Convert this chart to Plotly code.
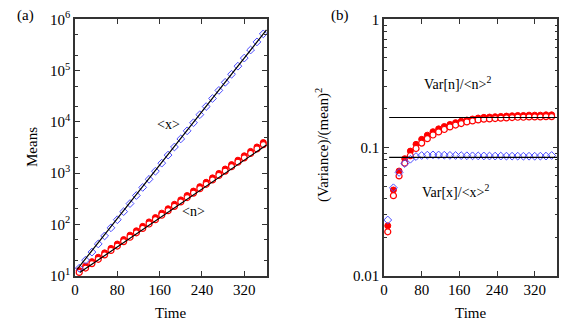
import plotly.graph_objects as go

# ---------------- data ----------------
time = [8, 20, 32, 44, 56, 68, 80, 92, 104, 116, 128, 140, 152, 164, 176,
        188, 200, 212, 224, 236, 248, 260, 272, 284, 296, 308, 320, 332, 344, 356]

mean_x = [14.0, 20.1, 28.9, 41.6, 59.7, 85.9, 123.5, 177.5, 255, 366, 527, 758,
          1089, 1566, 2250, 3236, 4652, 6683, 9610, 13800, 19860, 28560, 41040,
          59020, 84720, 121900, 175400, 251800, 362200, 520000]

mean_n_filled = [12.6, 15.4, 18.8, 22.9, 27.9, 34.1, 41.5, 50.6, 61.7, 75.2, 91.6,
                 112, 136, 166, 202, 247, 301, 366, 447, 545, 664, 809, 987, 1203,
                 1467, 1788, 2179, 2656, 3237, 3946]
mean_n_open = [11.6, 14.1, 17.2, 20.9, 25.5, 31.1, 37.9, 46.2, 56.2, 68.6, 83.6,
               102, 124, 151, 185, 225, 274, 334, 408, 497, 606, 739, 900, 1097,
               1338, 1631, 1988, 2423, 2953, 3600]

fit_x_t = [4, 362]
fit_x_v = [13.3, 620000]
fit_n_t = [9, 362]
fit_n_v = [11.5, 3540]

var_n_filled = [0.0245, 0.0466, 0.0655, 0.0818, 0.0937, 0.1058, 0.1158, 0.1248, 0.1328,
                0.1398, 0.1458, 0.1513, 0.1563, 0.1603, 0.1638, 0.1668, 0.1698, 0.1718,
                0.1728, 0.1738, 0.1748, 0.1758, 0.1768, 0.1778, 0.1778, 0.1788, 0.1788,
                0.1788, 0.1798, 0.1798]
var_n_open = [0.0220, 0.0421, 0.0600, 0.0755, 0.0863, 0.0982, 0.1082, 0.1172, 0.1252,
              0.1322, 0.1382, 0.1447, 0.1497, 0.1537, 0.1582, 0.1612, 0.1642, 0.1662,
              0.1672, 0.1682, 0.1692, 0.1702, 0.1712, 0.1722, 0.1722, 0.1732, 0.1732,
              0.1732, 0.1742, 0.1742]
var_x = [0.0272, 0.0485, 0.0639, 0.0750, 0.0810, 0.0850, 0.0866, 0.0872, 0.0876, 0.0874,
         0.0871, 0.0868, 0.0866, 0.0864, 0.0862, 0.0861, 0.0860, 0.0859, 0.0858, 0.0857,
         0.0857, 0.0856, 0.0856, 0.0856, 0.0855, 0.0855, 0.0855, 0.0856, 0.0857, 0.0866]

ref_t = [11, 368]
ref_var_n = [0.1714, 0.1714]
ref_var_x = [0.0836, 0.0836]

x_ticks = [0, 80, 160, 240, 320]
mean_ticks = [10, 100, 1000, 10000, 100000, 1000000]
mean_ticktext = ["10<sup>1</sup>", "10<sup>2</sup>", "10<sup>3</sup>",
                 "10<sup>4</sup>", "10<sup>5</sup>", "10<sup>6</sup>"]
var_ticks = [0.01, 0.1, 1]
var_ticktext = ["0.01", "0.1", "1"]

# ---------------- styling ----------------
FONT = "Liberation Serif"
RED = "#ff0000"
BLUE = "#4b4bff"

fig = go.Figure()

def markers_filled(x, y, xa, ya):
    fig.add_trace(go.Scatter(x=x, y=y, mode="markers", xaxis=xa, yaxis=ya,
                             marker=dict(symbol="circle", size=6, color=RED,
                                         line=dict(color=RED, width=1)),
                             showlegend=False, cliponaxis=False))

def markers_open(x, y, xa, ya):
    fig.add_trace(go.Scatter(x=x, y=y, mode="markers", xaxis=xa, yaxis=ya,
                             marker=dict(symbol="circle", size=6, color="white",
                                         line=dict(color=RED, width=1.2)),
                             showlegend=False, cliponaxis=False))

def diamonds(x, y, xa, ya):
    fig.add_trace(go.Scatter(x=x, y=y, mode="markers", xaxis=xa, yaxis=ya,
                             marker=dict(symbol="diamond-open", size=6, color=BLUE,
                                         line=dict(color=BLUE, width=1)),
                             showlegend=False, cliponaxis=False))

def line(x, y, xa, ya):
    fig.add_trace(go.Scatter(x=x, y=y, mode="lines", xaxis=xa, yaxis=ya,
                             line=dict(color="black", width=1.2),
                             showlegend=False, hoverinfo="skip"))

# panel (a)
markers_filled(time, mean_n_filled, "x", "y")
markers_open(time, mean_n_open, "x", "y")
diamonds(time, mean_x, "x", "y")
line(fit_x_t, fit_x_v, "x", "y")
line(fit_n_t, fit_n_v, "x", "y")

# panel (b)
markers_filled(time, var_n_filled, "x2", "y2")
markers_open(time, var_n_open, "x2", "y2")
diamonds(time, var_x, "x2", "y2")
line(ref_t, ref_var_n, "x2", "y2")
line(ref_t, ref_var_x, "x2", "y2")

W, H = 581, 325
def px_x(p):
    return p / W
def px_y(p):
    return 1 - p / H

axis_common = dict(showline=True, linecolor="#333333", linewidth=1.5, mirror="allticks",
                   ticks="inside", ticklen=5, tickcolor="#333333", tickwidth=1,
                   showgrid=False, zeroline=False, automargin=False,
                   tickfont=dict(family=FONT, size=15, color="black"))

minor_mean = []
for d in [10, 100, 1000, 10000, 100000]:
    minor_mean += [2 * d, 5 * d]
minor_var = []
for d in [0.01, 0.1]:
    minor_var += [k * d for k in range(2, 10)]

fig.update_layout(
    template="none",
    width=W, height=H,
    margin=dict(l=0, r=0, t=0, b=0, pad=0),
    paper_bgcolor="white", plot_bgcolor="white",
    font=dict(family=FONT, size=15, color="black"),
    xaxis=dict(domain=[px_x(75), px_x(267)], range=[0, 363], tickvals=x_ticks,
               anchor="y", **axis_common),
    yaxis=dict(domain=[px_y(275.7), px_y(19.3)], type="log", range=[1, 6],
               tickvals=mean_ticks, ticktext=mean_ticktext, anchor="x",
               minor=dict(ticks="inside", tickvals=minor_mean, ticklen=3,
                          tickcolor="#333333", showgrid=False),
               **axis_common),
    xaxis2=dict(domain=[px_x(384), px_x(557.3)], range=[0, 368], tickvals=x_ticks,
                anchor="y2", **axis_common),
    yaxis2=dict(domain=[px_y(275.7), px_y(19.3)], type="log", range=[-2, 0],
                tickvals=var_ticks, ticktext=var_ticktext, anchor="x2",
                minor=dict(ticks="inside", tickvals=minor_var, ticklen=3,
                           tickcolor="#333333", showgrid=False),
                **axis_common),
)

def ann(text, x, y, angle=0, size=15):
    fig.add_annotation(text=text, x=px_x(x), y=px_y(y), xref="paper", yref="paper",
                       showarrow=False, textangle=angle,
                       font=dict(family=FONT, size=size, color="black"),
                       xanchor="center", yanchor="middle")

ann("(a)", 25, 15)
ann("(b)", 340, 16)
ann("Means", 32, 147, angle=-90)
ann("(Variance)/(mean)<sup>2</sup>", 322, 145, angle=-90)
ann("Time", 170, 313)
ann("Time", 470, 313)
ann("&lt;x&gt;", 168, 125, size=14)
ann("&lt;n&gt;", 193, 212, size=14)
ann("Var[n]/&lt;n&gt;<sup>2</sup>", 457, 83, size=14)
ann("Var[x]/&lt;x&gt;<sup>2</sup>", 455, 191, size=14)

fig.write_html("out.html", config={"displayModeBar": False},
               post_script="document.body.style.margin='0';document.body.style.padding='0';")
